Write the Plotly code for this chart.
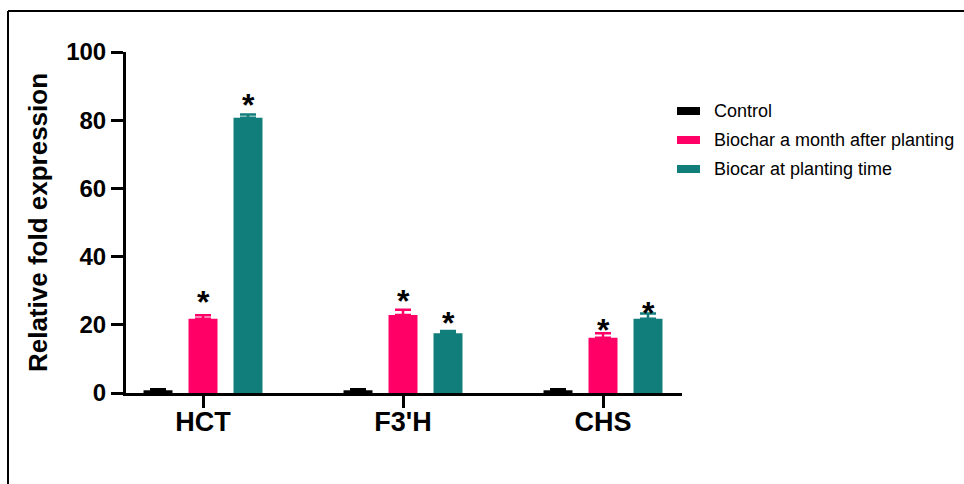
import plotly.graph_objects as go

genes = ["HCT", "F3'H", "CHS"]
series_names = ["Control", "Biochar a month after planting", "Biocar at planting time"]
control = [0.8, 0.8, 0.8]
control_err = [0.3, 0.3, 0.3]
biochar_month = [21.8, 22.9, 16.2]
biochar_month_err = [1.0, 1.5, 1.3]
biochar_planting = [80.7, 17.5, 21.8]
biochar_planting_err = [1.0, 0.7, 1.5]
# asterisk (significance) positions
star_month = [28.2, 28.4, 19.9]
star_planting = [85.8, 22.1, 24.9]

colors = ["#000000", "#FF0066", "#117E7B"]
FONT = "Liberation Sans, Arial, Helvetica, sans-serif"

W, H = 964, 484
L, R, T, B = 126, 282, 52, 91
PW, PH = W - L - R, H - T - B


def px(x):
    return (x - L) / PW


def py(y):
    return (H - B - y) / PH


fig = go.Figure()
vals = [control, biochar_month, biochar_planting]
errs = [control_err, biochar_month_err, biochar_planting_err]
for name, v, e, c in zip(series_names, vals, errs, colors):
    fig.add_trace(go.Bar(
        x=genes, y=v, name=name, marker=dict(color=c, line=dict(width=0)),
        error_y=dict(type="data", array=e, arrayminus=[0] * len(e), symmetric=False,
                     color=c, thickness=2.5, width=8),
        showlegend=False,
    ))

annotations = []
for i, g in enumerate(genes):
    for ys, off in ((star_month, 0), (star_planting, 1)):
        annotations.append(dict(
            x=i + off * 0.225, y=ys[i], xref="x", yref="y", text="*",
            showarrow=False, font=dict(family=FONT, size=32, color="black", weight="bold"),
            xanchor="center", yanchor="middle", yshift=-5,
        ))

# legend (manual)
shapes = []
leg_y = [111, 140, 169]
for name, c, yy in zip(series_names, colors, leg_y):
    shapes.append(dict(type="rect", xref="paper", yref="paper",
                       x0=px(677), x1=px(700), y0=py(yy + 4), y1=py(yy - 4),
                       fillcolor=c, line=dict(width=0)))
    annotations.append(dict(x=px(712), y=py(yy), xref="paper", yref="paper",
                            text=name, showarrow=False, xanchor="left", yanchor="middle",
                            font=dict(family=FONT, size=18, color="black")))

# outer frame lines (top and left)
shapes.append(dict(type="line", xref="paper", yref="paper", x0=px(8), x1=px(W + 5),
                   y0=py(11), y1=py(11), line=dict(color="black", width=2)))
shapes.append(dict(type="line", xref="paper", yref="paper", x0=px(8), x1=px(8),
                   y0=py(11), y1=py(H + 5), line=dict(color="black", width=2)))

fig.update_layout(
    width=W, height=H, margin=dict(l=L, r=R, t=T, b=B),
    paper_bgcolor="white", plot_bgcolor="white",
    barmode="group", bargap=0.325, bargroupgap=0.356,
    showlegend=False,
    annotations=annotations, shapes=shapes,
    font=dict(family=FONT, color="black"),
)
fig.update_xaxes(
    range=[-0.385, 2.395], showline=True, linecolor="black", linewidth=3,
    ticks="outside", ticklen=12, tickwidth=3, tickcolor="black",
    tickfont=dict(family=FONT, size=27, color="black", weight="bold"),
    ticklabelstandoff=-9,
    showgrid=False, zeroline=False,
)
fig.update_yaxes(
    range=[0, 100], tickvals=[0, 20, 40, 60, 80, 100], showline=True,
    linecolor="black", linewidth=3, ticks="outside", ticklen=12, tickwidth=3,
    tickcolor="black", tickfont=dict(family=FONT, size=24, color="black", weight="bold"),
    showgrid=False, zeroline=False,
    title=dict(text="Relative fold expression",
               font=dict(family=FONT, size=26, color="black", weight="bold"),
               standoff=12),
)

fig.write_html("out.html", config={"displayModeBar": False},
               post_script="document.body.style.margin='0px';")
